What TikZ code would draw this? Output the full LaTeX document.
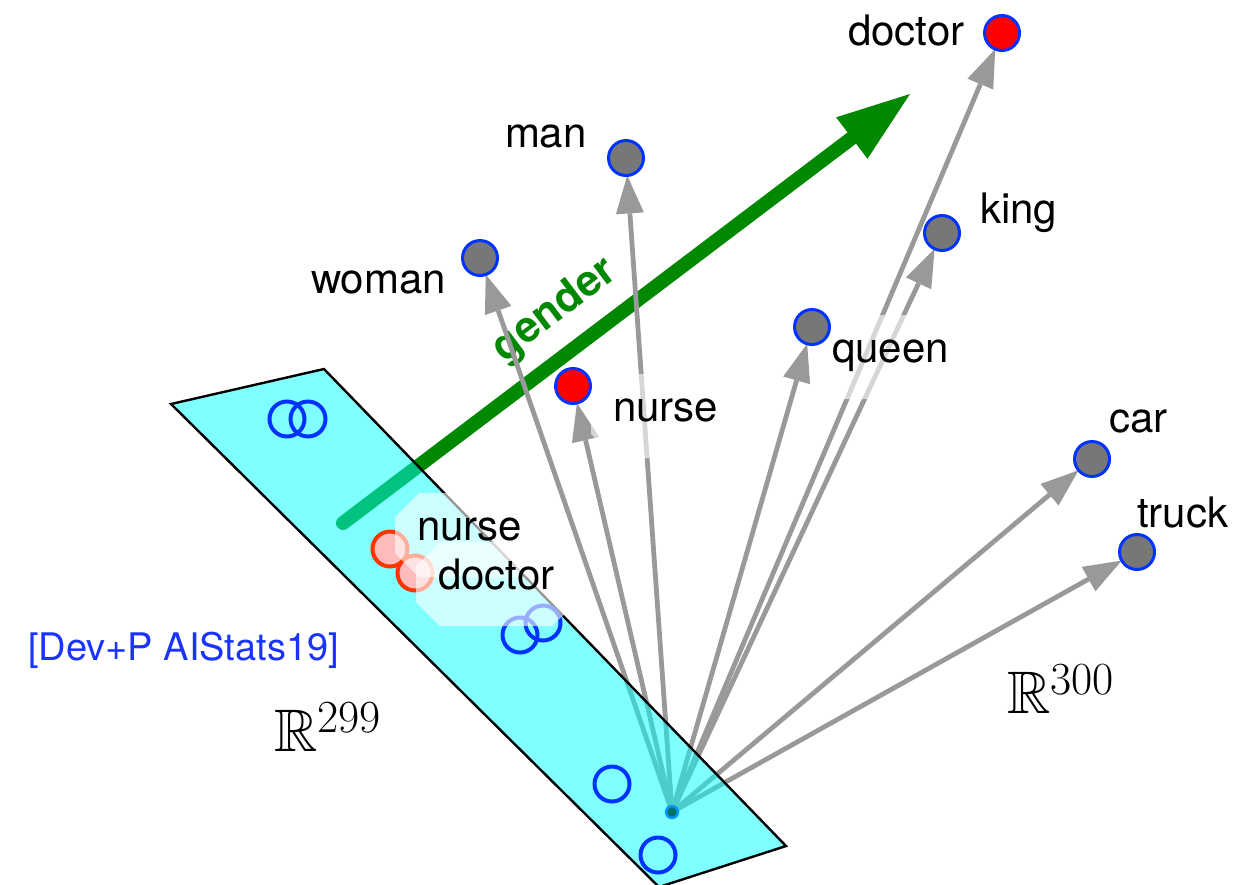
\documentclass[tikz,border=0pt]{standalone}
\usepackage{fontspec}
\setsansfont{TeX Gyre Heros}
\usepackage{amssymb}
\usetikzlibrary{arrows.meta,shapes.misc}

\definecolor{ptblue}{RGB}{0,51,255}
\definecolor{ptgray}{RGB}{119,119,119}
\definecolor{vecgray}{RGB}{153,153,153}
\definecolor{gendergreen}{RGB}{0,136,0}
\definecolor{planecyan}{RGB}{0,255,255}
\definecolor{ringred}{RGB}{255,51,0}
\definecolor{ringpink}{RGB}{255,187,187}
\definecolor{citeblue}{RGB}{26,51,255}
\definecolor{origfill}{RGB}{0,112,106}
\definecolor{origring}{RGB}{0,153,255}

\pgfdeclarelayer{under}
\pgfsetlayers{under,main}

\begin{document}
\begin{tikzpicture}[x=0.5pt,y=-0.5pt,
  pt/.style={circle, inner sep=0pt, outer sep=0pt, minimum size=17.5pt,
             draw=ptblue, line width=1.5pt, fill=ptgray},
  redpt/.style={pt, fill=red},
  vec/.style={draw=vecgray, line width=2.4pt,
              -{Triangle[length=19pt,width=14pt,line width=0pt,fill=vecgray]}},
  ring/.style={circle, inner sep=0pt, minimum size=17.5pt,
               draw=ptblue, line width=2pt},
  redring/.style={ring, draw=ringred, fill=ringpink},
  lbl/.style={font=\fontsize{21}{25}\selectfont\sffamily,
              chamfered rectangle, chamfered rectangle xsep=6pt,
              chamfered rectangle ysep=6pt,
              inner xsep=5pt, inner ysep=10pt,
              text height=0.75em, text depth=0.25em,
              fill=white, fill opacity=0.6, text opacity=1, anchor=text},
  space/.style={font=\fontsize{30}{36}\selectfont, anchor=text}
]
\useasboundingbox (0,0) rectangle (1245,884);
\clip (0,0) rectangle (1245,884);

% word vectors (kept on top of everything else)
\node[redpt] (doctor) at (1002,33) {};
\node[pt]    (man)    at (626,158) {};
\node[pt]    (king)   at (942,233) {};
\node[pt]    (woman)  at (480,258) {};
\node[pt]    (queen)  at (812,327) {};
\node[redpt] (nurse)  at (573,386) {};
\node[pt]    (car)    at (1092,459) {};
\node[pt]    (truck)  at (1137,552) {};
\coordinate (o) at (672,812);

\begin{pgfonlayer}{under}
% gender direction
\coordinate (g0) at (343,523);
\coordinate (g1) at (910,94);
\draw[gendergreen, line width=7pt, line cap=round,
      -{Triangle[length=36.5pt,width=26pt,line width=0pt,fill=gendergreen]}] (g0) -- (g1);
\node[rotate=37, text=gendergreen,
      font=\fontsize{21.5}{25}\selectfont\sffamily\bfseries] (gender) at (555,311) {gender};

% vectors from the origin
\foreach \w in {woman,man,nurse,queen,king,doctor,car,truck}
  \draw[vec] (o) -- (\w);

% the 299-dimensional subspace
\draw[fill=planecyan, fill opacity=0.5, line width=1.2pt, line join=miter]
  (171,404) -- (324,369) -- (786,846) -- (659,887) -- cycle;

% projected points
\node[ring] (p1) at (287,419) {};
\node[ring] (p2) at (308,419) {};
\node[redring] (pn) at (390,549) {};
\node[redring] (pd) at (415,573) {};
\node[ring] (p3) at (520,635) {};
\node[ring] (p4) at (543,623) {};
\node[ring] (p5) at (612,784) {};
\node[ring] (p6) at (658,855) {};

% labels
\node[lbl] (l-doctor) at (848,45)  {doctor};
\node[lbl] (l-man)    at (505,147) {man};
\node[lbl] (l-woman)  at (311,293) {woman};
\node[lbl] (l-king)   at (980,223) {king};
\node[lbl] (l-queen)  at (832,362) {queen};
\node[lbl] (l-nurse)  at (613,421) {nurse};
\node[lbl] (l-car)    at (1109,432) {car};
\node[lbl] (l-truck)  at (1137,527) {truck};
\node[lbl] (l-pnurse)  at (417,540) {nurse};
\node[lbl] (l-pdoctor) at (438,589) {doctor};
\end{pgfonlayer}

% origin of the embedding space
\node[circle, inner sep=0pt, minimum size=6pt, fill=origfill, draw=origring,
      line width=1.2pt] (origin) at (o) {};

\node[anchor=text, text=citeblue, font=\fontsize{19}{23}\selectfont\sffamily]
  (cite) at (28,660) {[Dev+P AIStats19]};

\node[space] (r299) at (274,751) {$\mathbb{R}^{\mbox{\fontsize{23}{27}\selectfont 299}}$};
\node[space] (r300) at (1007,713) {$\mathbb{R}^{\mbox{\fontsize{23}{27}\selectfont 300}}$};
\end{tikzpicture}
\end{document}
